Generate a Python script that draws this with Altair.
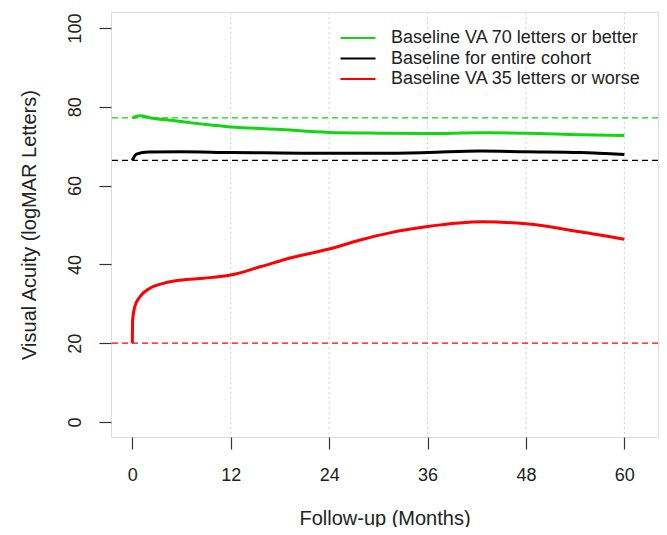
import altair as alt
import pandas as pd

# ---- data ----
series_names = [
    "Baseline VA 70 letters or better",
    "Baseline for entire cohort",
    "Baseline VA 35 letters or worse",
]
series_colors = ["#14d414", "#000000", "#ff0000"]

green_x = [0, 0.9, 2.5, 5.4, 9, 12, 17.6, 24, 30.2, 36, 42.4, 48, 54.6, 60]
green_y = [77.2, 77.7, 77.1, 76.4, 75.5, 74.9, 74.3, 73.5, 73.3, 73.2, 73.4, 73.3, 72.9, 72.7]

black_x = [0, 0.5, 2, 6, 12, 18, 24, 30.2, 36, 42.4, 48, 54.6, 60]
black_y = [66.4, 68.0, 68.5, 68.6, 68.4, 68.3, 68.2, 68.2, 68.4, 68.8, 68.6, 68.4, 67.9]

red_x = [0, 0.04, 0.3, 0.93, 2.1, 3.8, 5.8, 8.7, 12, 15.6, 19.6, 24, 27.8, 31.4, 36, 42.8, 48, 54.6, 60]
red_y = [20.0, 25.9, 29.3, 31.8, 33.9, 35.2, 36.0, 36.5, 37.3, 39.4, 41.8, 43.9, 46.2, 48.0, 49.6, 50.8, 50.3, 48.3, 46.4]

baseline_values = [77.2, 66.4, 20.0]
grid_months = [12, 24, 36, 48, 60]
x_ticks = [0, 12, 24, 36, 48, 60]
y_ticks = [0, 20, 40, 60, 80, 100]

rows = []
for name, xs, ys in zip(series_names, [green_x, black_x, red_x], [green_y, black_y, red_y]):
    for i, (a, b) in enumerate(zip(xs, ys)):
        rows.append({"series": name, "month": a, "va": b, "order": i})
curves = pd.DataFrame(rows)
baselines = pd.DataFrame({"series": series_names, "va": baseline_values})
grid = pd.DataFrame({"month": grid_months})

FONT = "Liberation Sans"
TXT = "#222222"

xscale = alt.Scale(domain=[-2.6, 64.1], nice=False, zero=False)
yscale = alt.Scale(domain=[-3.8, 104.06], nice=False, zero=False)
color = alt.Color(
    "series:N",
    scale=alt.Scale(domain=series_names, range=series_colors),
    legend=alt.Legend(
        title=None,
        orient="none",
        legendX=238,
        legendY=17,
        symbolType="M-2.5,0H2.5",
        symbolSize=196,
        symbolStrokeWidth=2,
        labelFont=FONT,
        labelFontSize=18,
        labelColor=TXT,
        labelOffset=24,
        rowPadding=2.5,
        padding=0,
        labelLimit=400,
    ),
)

grid_layer = alt.Chart(grid).mark_rule(
    color="#d0d0d0", strokeDash=[2, 3], strokeWidth=1
).encode(
    x=alt.X("month:Q", scale=xscale,
            axis=alt.Axis(values=x_ticks, title="Follow-up (Months)", domain=False, grid=False,
                          tickSize=12, tickColor="#333333", tickWidth=1.2,
                          labelFont=FONT, labelFontSize=18, labelColor=TXT, labelPadding=17,
                          titleFont=FONT, titleFontSize=20, titleFontWeight="normal",
                          titleColor=TXT, titlePadding=24)),
)

base_layer = alt.Chart(baselines).mark_rule(strokeDash=[6, 4], strokeWidth=1.3).encode(
    y=alt.Y("va:Q", scale=yscale,
            axis=alt.Axis(values=y_ticks, title="Visual Acuity (logMAR Letters)", domain=False, grid=False,
                          tickSize=12, tickColor="#333333", tickWidth=1.2, labelAngle=270,
                          labelAlign="center", labelBaseline="bottom",
                          labelFont=FONT, labelFontSize=18, labelColor=TXT, labelPadding=15,
                          titleFont=FONT, titleFontSize=20, titleFontWeight="normal",
                          titleColor=TXT, titlePadding=27)),
    color=color,
)

line_layer = alt.Chart(curves).mark_line(strokeWidth=3, interpolate="monotone").encode(
    x=alt.X("month:Q", scale=xscale),
    y=alt.Y("va:Q", scale=yscale),
    color=color,
    order="order:Q",
    detail="series:N",
)

chart = alt.layer(grid_layer, base_layer, line_layer).properties(
    width=547,
    height=425,
    autosize=alt.AutoSizeParams(type="none"),
    padding={"left": 103, "top": 4, "right": 1, "bottom": 90},
).configure_view(
    stroke="#555555", strokeWidth=1.5
).configure(background="white")

chart.save("out.html", embed_options={"renderer": "svg", "actions": False})
